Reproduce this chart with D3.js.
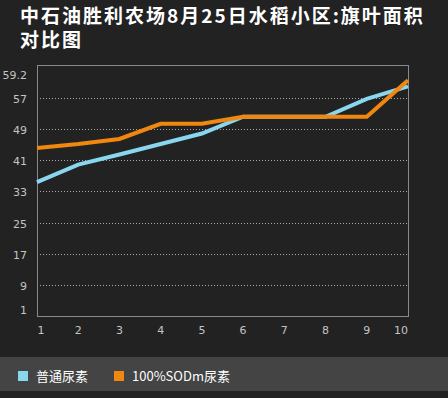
<!DOCTYPE html>
<html>
<head>
<meta charset="utf-8">
<script src="https://cdn.jsdelivr.net/npm/d3@7"></script>
<style>
  body { margin:0; background:#222222; }
  svg { display:block; }
</style>
</head>
<body>
<svg></svg>
<script>
// data
var categories = [1,2,3,4,5,6,7,8,9,10];
var normalUrea = [35.4,39.9,42.5,45.2,47.9,52.2,52.2,52.2,56.8,60.0];
var sodUrea = [44.2,45.2,46.5,50.4,50.4,52.2,52.2,52.2,52.2,61.6];
var yTicks = [1,9,17,25,33,41,49,57];
var topLabel = "59.2";
var seriesNames = ["普通尿素","100%SODm尿素"];
var seriesColors = ["#8ad6ee","#f0870f"];

var screen = { width:448, height:398 };

var svg = d3.select("svg")
            .attr("width",screen.width)
            .attr("height",screen.height);

var margins = { top:65, bottom:82, left:37, right:40 };
var width = screen.width - margins.left - margins.right;
var height = screen.height - margins.top - margins.bottom;

var xScale = d3.scaleLinear()
               .domain([1,10])
               .range([0,width]);
var yScale = d3.scaleLinear()
               .domain([1,65.5])
               .range([height,0]);

// title, two lines
var titleFont = "'Noto Sans CJK SC', sans-serif";
svg.append("text")
   .attr("x",20)
   .attr("y",23)
   .attr("fill","#ffffff")
   .style("font-family",titleFont)
   .style("font-size","19px")
   .style("font-weight","bold")
   .style("letter-spacing","2px")
   .text("中石油胜利农场8月25日水稻小区:旗叶面积");
svg.append("text")
   .attr("x",20)
   .attr("y",47)
   .attr("fill","#ffffff")
   .style("font-family",titleFont)
   .style("font-size","19px")
   .style("font-weight","bold")
   .style("letter-spacing","2px")
   .text("对比图");

var plot = svg.append("g")
              .attr("transform","translate("+margins.left+","+margins.top+")");

// grid lines
plot.selectAll("line.grid")
    .data(yTicks.slice(1))
    .enter()
    .append("line")
    .classed("grid",true)
    .attr("x1",0)
    .attr("x2",width)
    .attr("y1",function(d){return Math.round(yScale(d))+0.5;})
    .attr("y2",function(d){return Math.round(yScale(d))+0.5;})
    .attr("stroke","#a8a8a8")
    .attr("stroke-dasharray","1,2");

// frame
plot.append("rect")
    .attr("x",0.5)
    .attr("y",0.5)
    .attr("width",width)
    .attr("height",Math.round(height))
    .attr("fill","none")
    .attr("stroke","#8a8a8a");

// y labels
plot.selectAll("text.ylab")
    .data(yTicks)
    .enter()
    .append("text")
    .classed("ylab",true)
    .attr("x",-10)
    .attr("y",function(d,i){return yScale(d) + (i==0 ? -2 : 5);})
    .attr("text-anchor","end")
    .attr("fill","#c4c4c4")
    .style("font-family","'DejaVu Sans', sans-serif")
    .style("font-size","11px")
    .text(function(d){return d;});

plot.append("text")
    .attr("x",-10)
    .attr("y",yScale(65.5)+14)
    .attr("text-anchor","end")
    .attr("fill","#c4c4c4")
    .style("font-family","'DejaVu Sans', sans-serif")
    .style("font-size","11px")
    .text(topLabel);

// x labels
plot.selectAll("text.xlab")
    .data(categories)
    .enter()
    .append("text")
    .classed("xlab",true)
    .attr("x",function(d,i){
      var x = xScale(d);
      if(i==0) x += 4;
      if(i==categories.length-1) x -= 7;
      return x;
    })
    .attr("y",height+18)
    .attr("text-anchor","middle")
    .attr("fill","#c4c4c4")
    .style("font-family","'DejaVu Sans', sans-serif")
    .style("font-size","11px")
    .text(function(d){return d;});

// lines
var line = d3.line()
             .x(function(d,i){return xScale(categories[i]);})
             .y(function(d){return yScale(d);});

[normalUrea,sodUrea].forEach(function(s,k){
  plot.append("path")
      .datum(s)
      .attr("d",line)
      .attr("fill","none")
      .attr("stroke",seriesColors[k])
      .attr("stroke-width",4)
      .attr("stroke-linejoin","miter");
});

// legend band
svg.append("rect")
   .attr("x",0)
   .attr("y",357)
   .attr("width",screen.width)
   .attr("height",34)
   .attr("fill","#444444");

var legend = svg.append("g")
                .attr("transform","translate(18,371)");
var legendItems = legend.selectAll("g")
                        .data(seriesNames)
                        .enter()
                        .append("g")
                        .attr("transform",function(d,i){return "translate("+(i*96)+",0)";});
legendItems.append("rect")
           .attr("x",0)
           .attr("y",0)
           .attr("width",10)
           .attr("height",10)
           .attr("fill",function(d,i){return seriesColors[i];});
legendItems.append("text")
           .attr("x",18)
           .attr("y",10)
           .attr("fill","#ffffff")
           .style("font-family","'Noto Sans CJK SC', sans-serif")
           .style("font-size","13px")
           .text(function(d){return d;});
</script>
</body>
</html>
